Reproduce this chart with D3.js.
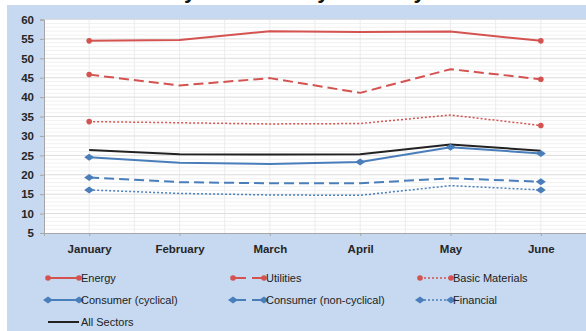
<!DOCTYPE html>
<html>
<head>
<meta charset="utf-8">
<script src="https://cdn.jsdelivr.net/npm/d3@7"></script>
<style>
  html, body { margin: 0; padding: 0; background: #ffffff; }
  svg { display: block; font-family: "Liberation Sans", Arial, sans-serif; }
</style>
</head>
<body>
<svg id="chart" width="586" height="331"></svg>
<script>
// Months on the category axis
const months = ["January", "February", "March", "April", "May", "June"];

// Monthly volatility per sector
const energy       = [54.5, 54.7, 57.0, 56.8, 56.9, 54.5];
const utilities    = [45.8, 43.0, 44.9, 41.1, 47.2, 44.6];
const basicMat     = [33.7, 33.4, 33.1, 33.2, 35.4, 32.7];
const consCyclical = [24.5, 23.1, 22.8, 23.3, 27.1, 25.5];
const consNonCyc   = [19.3, 18.1, 17.8, 17.8, 19.1, 18.2];
const financial    = [16.1, 15.2, 14.8, 14.7, 17.2, 16.1];
const allSectors   = [26.4, 25.3, 25.2, 25.3, 27.8, 26.2];

// Value axis ticks
const yTicks = [5, 10, 15, 20, 25, 30, 35, 40, 45, 50, 55, 60];

const RED = "#d4524f", BLUE = "#4a7ebb", BLACK = "#222222";

const series = [
  { name: "Energy",                  values: energy,       color: RED,   dash: null,   width: 2,   marker: "circle",  marked: [0, 5] },
  { name: "Utilities",               values: utilities,    color: RED,   dash: "10,5", width: 2,   marker: "circle",  marked: [0, 5] },
  { name: "Basic Materials",         values: basicMat,     color: RED,   dash: "2,2",  width: 1.5, marker: "circle",  marked: [0, 5] },
  { name: "Consumer (cyclical)",     values: consCyclical, color: BLUE,  dash: null,   width: 2,   marker: "diamond", marked: [0, 3, 4, 5] },
  { name: "Consumer (non-cyclical)", values: consNonCyc,   color: BLUE,  dash: "10,5", width: 2,   marker: "diamond", marked: [0, 5] },
  { name: "Financial",               values: financial,    color: BLUE,  dash: "2,2",  width: 1.5, marker: "diamond", marked: [0, 5] },
  { name: "All Sectors",             values: allSectors,   color: BLACK, dash: null,   width: 2,   marker: null,      marked: [] }
];

const svg = d3.select("#chart");

// Title, sitting above the panel's top edge
svg.append("text")
  .attr("x", 112).attr("y", -2.5)
  .attr("font-size", 22).attr("font-weight", "bold")
  .attr("fill", "#111")
  .text("Monthly Sector Daily Volatility");

// Chart panel
svg.append("rect")
  .attr("x", 7).attr("y", 5).attr("width", 579).attr("height", 326)
  .attr("fill", "#c6d9f0");

const plot = { left: 44, right: 586, top: 19.5, bottom: 233 };

const x = d3.scalePoint().domain(months).range([plot.left, plot.right]).padding(0.5);
const y = d3.scaleLinear().domain([5, 60]).range([plot.bottom, plot.top]);

// Plot area
svg.append("rect")
  .attr("x", plot.left).attr("y", plot.top)
  .attr("width", plot.right - plot.left).attr("height", plot.bottom - plot.top)
  .attr("fill", "#ffffff");

// Minor horizontal grid (every unit)
svg.append("g").selectAll("line")
  .data(d3.range(6, 60).filter(v => v % 5 !== 0))
  .join("line")
  .attr("x1", plot.left).attr("x2", plot.right)
  .attr("y1", d => y(d)).attr("y2", d => y(d))
  .attr("stroke", "#f1f1f1").attr("stroke-width", 1);

// Vertical grid at category centres and boundaries
const step = x.step();
const vLines = [];
months.forEach(m => { vLines.push(x(m) - step / 2); vLines.push(x(m)); });
svg.append("g").selectAll("line")
  .data(vLines.filter(v => v > plot.left + 1))
  .join("line")
  .attr("x1", d => d).attr("x2", d => d)
  .attr("y1", plot.top).attr("y2", plot.bottom)
  .attr("stroke", "#ececec").attr("stroke-width", 1);

// Major horizontal grid
svg.append("g").selectAll("line")
  .data(yTicks.filter(v => v > 5))
  .join("line")
  .attr("x1", plot.left).attr("x2", plot.right)
  .attr("y1", d => y(d)).attr("y2", d => y(d))
  .attr("stroke", "#dcdcdc").attr("stroke-width", 1);

// Axes
const yAxis = d3.axisLeft(y).tickValues(yTicks).tickSize(4).tickPadding(6);
const gy = svg.append("g").attr("transform", `translate(${plot.left},0)`).call(yAxis);
gy.select(".domain").attr("stroke", "#a6a6a6");
gy.selectAll(".tick line").attr("stroke", "#a6a6a6");
gy.selectAll(".tick text")
  .attr("font-size", 11.5).attr("font-weight", "bold").attr("fill", "#262626")
  .attr("font-family", "Liberation Sans, Arial, sans-serif");

const xAxis = d3.axisBottom(x).tickSize(3).tickPadding(9);
const gx = svg.append("g").attr("transform", `translate(0,${plot.bottom})`).call(xAxis);
gx.select(".domain").attr("stroke", "#a6a6a6");
gx.selectAll(".tick line").attr("stroke", "#a6a6a6");
gx.selectAll(".tick text")
  .attr("font-size", 11.5).attr("font-weight", "bold").attr("fill", "#262626")
  .attr("font-family", "Liberation Sans, Arial, sans-serif");

// Series lines (straight segments between months)
const line = d3.line().x((d, i) => x(months[i])).y(d => y(d));

const diamond = (cx, cy) => `M${cx - 5},${cy} L${cx},${cy - 3.5} L${cx + 5},${cy} L${cx},${cy + 3.5} Z`;

function drawMarker(g, type, cx, cy, color) {
  if (type === "circle") {
    g.append("circle").attr("cx", cx).attr("cy", cy).attr("r", 2.8).attr("fill", color);
  } else if (type === "diamond") {
    g.append("path").attr("d", diamond(cx, cy)).attr("fill", color);
  }
}

// "All Sectors" goes under the blue lines where they meet
const drawOrder = [0, 1, 2, 6, 3, 4, 5];
drawOrder.forEach(k => {
  const s = series[k];
  const g = svg.append("g");
  g.append("path")
    .datum(s.values)
    .attr("d", line)
    .attr("fill", "none")
    .attr("stroke", s.color)
    .attr("stroke-width", s.width)
    .attr("stroke-dasharray", s.dash)
    .attr("stroke-linejoin", "round");
  s.marked.forEach(i => drawMarker(g, s.marker, x(months[i]), y(s.values[i]), s.color));
});

// Legend: three columns, three rows
const legendCols = [48, 233, 420];
const legendRows = [278, 300, 322];
const segLen = 31;
series.forEach((s, i) => {
  const lx = legendCols[i % 3], ly = legendRows[Math.floor(i / 3)];
  const g = svg.append("g");
  if (s.dash === "10,5") {
    g.append("line").attr("x1", lx).attr("x2", lx + 13).attr("y1", ly).attr("y2", ly)
      .attr("stroke", s.color).attr("stroke-width", 2);
    g.append("line").attr("x1", lx + 19).attr("x2", lx + segLen).attr("y1", ly).attr("y2", ly)
      .attr("stroke", s.color).attr("stroke-width", 2);
  } else {
    g.append("line").attr("x1", lx).attr("x2", lx + segLen).attr("y1", ly).attr("y2", ly)
      .attr("stroke", s.color).attr("stroke-width", s.dash ? 1.5 : 2)
      .attr("stroke-dasharray", s.dash);
  }
  if (s.marker) {
    drawMarker(g, s.marker, lx, ly, s.color);
    drawMarker(g, s.marker, lx + segLen, ly, s.color);
  }
  g.append("text")
    .attr("x", lx + segLen + 2).attr("y", ly + 4)
    .attr("font-size", 11).attr("fill", "#222")
    .text(s.name);
});
</script>
</body>
</html>
